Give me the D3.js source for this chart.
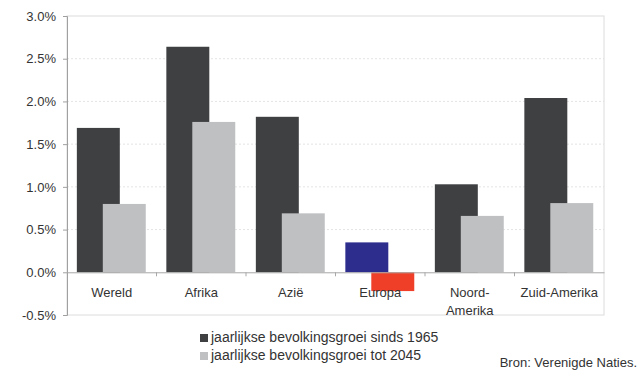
<!DOCTYPE html>
<html>
<head>
  <meta charset="utf-8">
  <title>Jaarlijkse bevolkingsgroei</title>
  <style>
    body { margin: 0; background: #fff; }
    text { font-family: "Liberation Sans", Arial, sans-serif; fill: #333; }
  </style>
</head>
<body>
  <script src="https://cdn.jsdelivr.net/npm/d3@7"></script>
  <script>
    // data
    var categories = ["Wereld", "Afrika", "Azië", "Europa", "Noord-Amerika", "Zuid-Amerika"];
    var catLines = [["Wereld"], ["Afrika"], ["Azië"], ["Europa"], ["Noord-", "Amerika"], ["Zuid-Amerika"]];
    var sinds1965 = [1.69, 2.64, 1.82, 0.35, 1.03, 2.04];
    var tot2045 = [0.80, 1.76, 0.69, -0.22, 0.66, 0.81];
    var yTicks = [-0.5, 0, 0.5, 1.0, 1.5, 2.0, 2.5, 3.0];
    var legendLabels = ["jaarlijkse bevolkingsgroei sinds 1965", "jaarlijkse bevolkingsgroei tot 2045"];

    var width = 639, height = 371;
    var plot = {left: 67, right: 604, top: 16, bottom: 315};

    var darkColor = "#3e4042", lightColor = "#bfc0c2";
    var europaDark = "#2d2d8e", europaLight = "#ef3f28";

    var svg = d3.select("body").append("svg")
      .attr("width", width)
      .attr("height", height);

    var x = d3.scaleBand().domain(categories).range([plot.left, plot.right]).padding(0);
    var y = d3.scaleLinear().domain([-0.5, 3.0]).range([plot.bottom, plot.top]);

    // faint gridlines
    svg.append("g").selectAll("line")
      .data(yTicks.filter(function(d) { return d > 0 && d < 3; }))
      .enter().append("line")
      .attr("x1", plot.left).attr("x2", plot.right)
      .attr("y1", function(d) { return y(d); })
      .attr("y2", function(d) { return y(d); })
      .attr("stroke", "#e4e4e4")
      .attr("stroke-dasharray", "2,2");

    // plot border
    svg.append("rect")
      .attr("x", plot.left).attr("y", plot.top)
      .attr("width", plot.right - plot.left)
      .attr("height", plot.bottom - plot.top)
      .attr("fill", "none")
      .attr("stroke", "#dcdcdc");

    var bw = x.bandwidth();
    var barW = bw * 0.48;

    // dark bars (sinds 1965)
    svg.append("g").selectAll("rect")
      .data(sinds1965)
      .enter().append("rect")
      .attr("x", function(d, i) { return x(categories[i]) + bw * 0.11; })
      .attr("y", function(d) { return y(Math.max(0, d)); })
      .attr("width", barW)
      .attr("height", function(d) { return Math.abs(y(d) - y(0)); })
      .attr("fill", function(d, i) { return categories[i] === "Europa" ? europaDark : darkColor; });

    // light bars (tot 2045)
    svg.append("g").selectAll("rect")
      .data(tot2045)
      .enter().append("rect")
      .attr("x", function(d, i) { return x(categories[i]) + bw * 0.40; })
      .attr("y", function(d) { return y(Math.max(0, d)); })
      .attr("width", barW)
      .attr("height", function(d) { return Math.abs(y(d) - y(0)); })
      .attr("fill", function(d, i) { return categories[i] === "Europa" ? europaLight : lightColor; });

    // y axis
    var yAxis = svg.append("g")
      .attr("transform", "translate(" + plot.left + ",0)")
      .call(d3.axisLeft(y).tickValues(yTicks).tickSize(4).tickPadding(7)
        .tickFormat(function(d) { return d.toFixed(1) + "%"; }));
    yAxis.select(".domain").attr("stroke", "#a0a0a0");
    yAxis.selectAll(".tick line").attr("stroke", "#a0a0a0");
    yAxis.selectAll("text").style("font-size", "13px").attr("fill", "#333");

    // zero line with category ticks
    var xAxis = svg.append("g")
      .attr("transform", "translate(0," + y(0) + ")")
      .call(d3.axisBottom(x).tickSize(0).tickFormat(""));
    xAxis.select(".domain").attr("stroke", "#a8a8a8");
    xAxis.append("g").selectAll("line")
      .data(categories.slice(1))
      .enter().append("line")
      .attr("x1", function(d) { return x(d); })
      .attr("x2", function(d) { return x(d); })
      .attr("y1", 0).attr("y2", 4)
      .attr("stroke", "#a8a8a8");

    // category labels
    var lab = svg.append("g").selectAll("text")
      .data(catLines)
      .enter().append("text")
      .attr("x", function(d, i) { return x(categories[i]) + bw / 2; })
      .attr("y", 297)
      .attr("text-anchor", "middle")
      .style("font-size", "13px");
    lab.selectAll("tspan")
      .data(function(d) { return d; })
      .enter().append("tspan")
      .attr("x", function() { return d3.select(this.parentNode).attr("x"); })
      .attr("dy", function(d, j) { return j === 0 ? 0 : 18; })
      .text(function(d) { return d; });

    // legend
    var legend = svg.append("g");
    var legColors = [darkColor, lightColor];
    legendLabels.forEach(function(t, i) {
      legend.append("rect")
        .attr("x", 200).attr("y", 334 + i * 18)
        .attr("width", 8).attr("height", 8)
        .attr("fill", legColors[i]);
      legend.append("text")
        .attr("x", 211).attr("y", 342 + i * 18)
        .style("font-size", "14px")
        .text(t);
    });

    // source
    svg.append("text")
      .attr("x", 637).attr("y", 367)
      .attr("text-anchor", "end")
      .style("font-size", "13px")
      .text("Bron: Verenigde Naties.");
  </script>
</body>
</html>
